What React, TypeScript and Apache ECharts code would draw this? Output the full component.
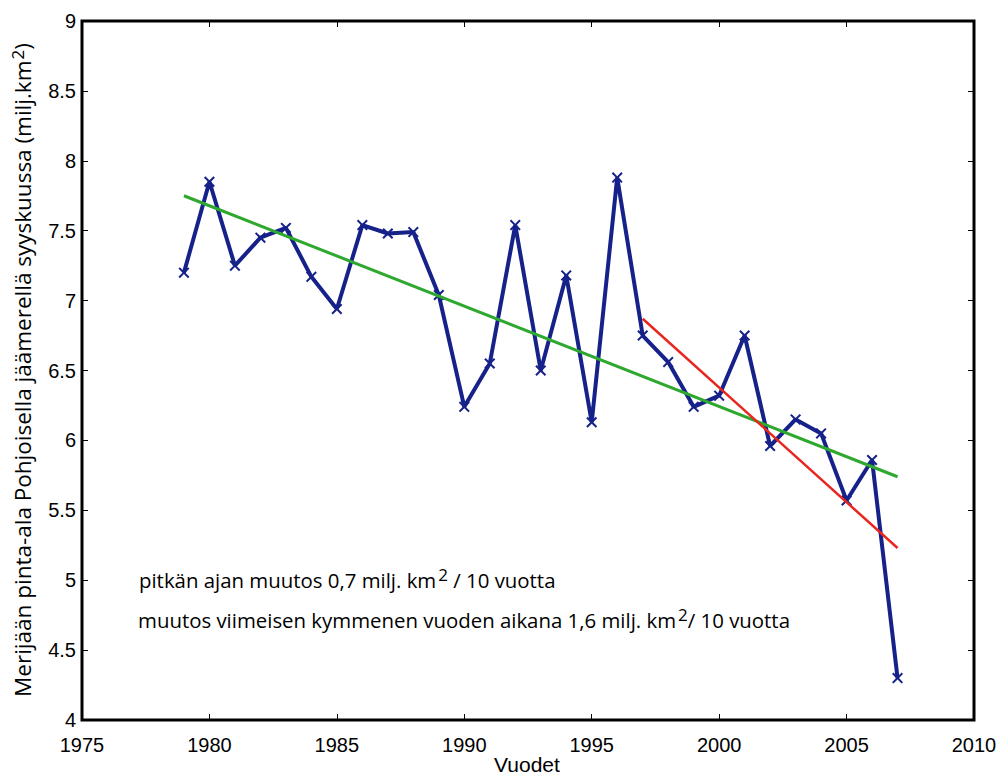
import React, { useEffect, useRef } from "react";
import * as echarts from "echarts";

const years = [1979, 1980, 1981, 1982, 1983, 1984, 1985, 1986, 1987, 1988, 1989, 1990, 1991, 1992, 1993, 1994, 1995, 1996, 1997, 1998, 1999, 2000, 2001, 2002, 2003, 2004, 2005, 2006, 2007];
const extent = [7.20, 7.85, 7.25, 7.45, 7.52, 7.17, 6.94, 7.54, 7.48, 7.49, 7.04, 6.24, 6.55, 7.54, 6.50, 7.18, 6.13, 7.88, 6.75, 6.56, 6.24, 6.32, 6.75, 5.96, 6.15, 6.05, 5.57, 5.86, 4.30];
const longTrendX = [1979, 2007];
const longTrendY = [7.75, 5.74];
const shortTrendX = [1997, 2007];
const shortTrendY = [6.87, 5.23];
const xTicks = [1975, 2010, 5];
const yTicks = [4, 9, 0.5];

const yTitle = "Merijään pinta-ala Pohjoisella jäämerellä syyskuussa (milj.km";
const xTitle = "Vuodet";
const note1a = "pitkän ajan muutos 0,7 milj. km";
const note1b = " / 10 vuotta";
const note2a = "muutos viimeisen kymmenen vuoden aikana 1,6 milj. km";
const note2b = "/ 10 vuotta";

const BLUE = "#16228a";
const GREEN = "#2ea82e";
const RED = "#e8261f";
const TICK_FONT = "'Liberation Sans', Arial, sans-serif";
const NOTE_FONT = "'Open Sans', 'Noto Sans', sans-serif";

export default function App() {
  const ref = useRef<HTMLDivElement>(null);
  useEffect(() => {
    if (!ref.current) return;
    const chart = echarts.init(ref.current, null, { renderer: "svg" });
    const mainData = years.map((y, i) => [y, extent[i]]);
    const longData = longTrendX.map((x, i) => [x, longTrendY[i]]);
    const shortData = shortTrendX.map((x, i) => [x, shortTrendY[i]]);
    const xSymbol = "path://M0,1.3L1.3,0L5,3.7L8.7,0L10,1.3L6.3,5L10,8.7L8.7,10L5,6.3L1.3,10L0,8.7L3.7,5Z";
    const tickLabel = { color: "#000", fontFamily: TICK_FONT, fontSize: 20 };
    const noteRich = {
      t: { fontFamily: NOTE_FONT, fontSize: 20.4, color: "#111" },
      s: { fontFamily: NOTE_FONT, fontSize: 17, color: "#111", verticalAlign: "bottom" as const, padding: [0, 0, 12, 2] },
    };
    chart.setOption({
      animation: false,
      backgroundColor: "#fff",
      grid: {
        left: 82, top: 21, right: 27, bottom: 56, containLabel: false, outerBoundsMode: "none",
        show: true, borderColor: "#000", borderWidth: 3, backgroundColor: "transparent",
      },
      xAxis: [
        {
          type: "value", min: xTicks[0], max: xTicks[1], interval: xTicks[2], position: "bottom",
          axisLine: { show: false }, splitLine: { show: false },
          axisTick: { show: true, inside: true, length: 6, lineStyle: { color: "#000", width: 1 } },
          axisLabel: { ...tickLabel, margin: 15, formatter: (v: number) => String(v) },
        },
        {
          type: "value", min: xTicks[0], max: xTicks[1], interval: xTicks[2], position: "top",
          axisLine: { show: false }, splitLine: { show: false },
          axisTick: { show: true, inside: true, length: 6, lineStyle: { color: "#000", width: 1 } },
          axisLabel: { show: false },
        },
      ],
      yAxis: [
        {
          type: "value", min: yTicks[0], max: yTicks[1], interval: yTicks[2], position: "left",
          axisLine: { show: false }, splitLine: { show: false },
          axisTick: { show: true, inside: true, length: 6, lineStyle: { color: "#000", width: 1 } },
          axisLabel: { ...tickLabel, margin: 6, padding: [0, 0, 6, 0] },
        },
        {
          type: "value", min: yTicks[0], max: yTicks[1], interval: yTicks[2], position: "right",
          axisLine: { show: false }, splitLine: { show: false },
          axisTick: { show: true, inside: true, length: 6, lineStyle: { color: "#000", width: 1 } },
          axisLabel: { show: false },
        },
      ],
      series: [
        {
          type: "line", data: longData, showSymbol: false, z: 3,
          lineStyle: { color: GREEN, width: 3 },
        },
        {
          type: "line", data: shortData, showSymbol: false, z: 4,
          lineStyle: { color: RED, width: 2.5 },
        },
        {
          type: "line", data: mainData, z: 2,
          symbol: xSymbol, symbolSize: 11, showAllSymbol: true,
          lineStyle: { color: BLUE, width: 4 },
          itemStyle: { color: BLUE },
        },
      ],
      graphic: [
        {
          type: "text", x: 22, y: 370, rotation: Math.PI / 2,
          style: {
            text: "{t|" + yTitle + "}{s|2}{t|)}",
            align: "center", verticalAlign: "middle",
            rich: {
              t: { fontFamily: NOTE_FONT, fontSize: 22.5, color: "#111" },
              s: { fontFamily: NOTE_FONT, fontSize: 17, color: "#111", verticalAlign: "bottom", padding: [0, 0, 10, 1] },
            },
          },
        },
        {
          type: "text", x: 527, y: 764,
          style: {
            text: "{v|" + xTitle + "}", align: "center", verticalAlign: "middle",
            rich: { v: { fontFamily: TICK_FONT, fontSize: 21, color: "#000" } },
          },
        },
        {
          type: "text", x: 139, y: 580,
          style: { text: "{t|" + note1a + "}{s|2}{t|" + note1b + "}", align: "left", verticalAlign: "middle", rich: noteRich },
        },
        {
          type: "text", x: 138, y: 620,
          style: { text: "{t|" + note2a + "}{s|2}{t|" + note2b + "}", align: "left", verticalAlign: "middle", rich: noteRich },
        },
      ],
    });
    return () => chart.dispose();
  }, []);
  return <div ref={ref} style={{ position: "fixed", left: 0, top: 0, width: 1001, height: 776 }} />;
}
